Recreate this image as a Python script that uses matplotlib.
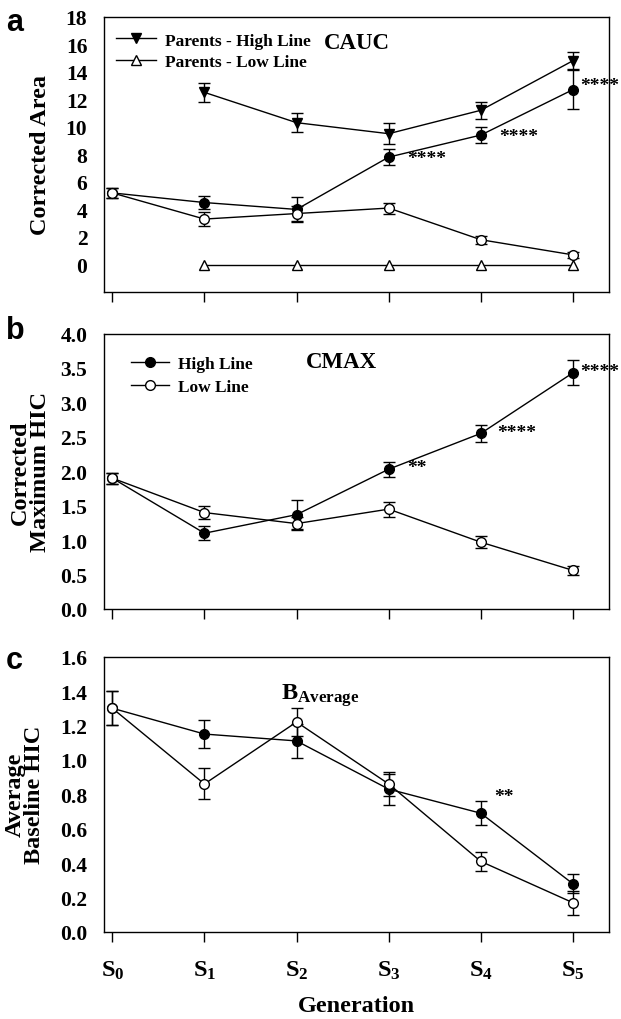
import numpy as np
import matplotlib
matplotlib.use('Agg')
import matplotlib.pyplot as plt
from matplotlib.lines import Line2D

plt.rcParams['font.family'] = ['Liberation Serif', 'DejaVu Serif']
plt.rcParams['font.weight'] = 'bold'
plt.rcParams['mathtext.fontset'] = 'custom'
plt.rcParams['mathtext.rm'] = 'Liberation Serif:bold'
plt.rcParams['mathtext.it'] = 'Liberation Serif:bold'
plt.rcParams['mathtext.bf'] = 'Liberation Serif:bold'
plt.rcParams['mathtext.default'] = 'rm'

# Generaciones S0..S5
gen = np.arange(6)
gen_labels = [r'$S_0$', r'$S_1$', r'$S_2$', r'$S_3$', r'$S_4$', r'$S_5$']

# Panel a: CAUC
par_high = [12.5, 10.3, 9.5, 11.2, 14.8]
par_high_err = [0.7, 0.7, 0.75, 0.6, 0.6]
par_low = [0, 0, 0, 0, 0]
a_high = [5.2, 4.5, 4.0, 7.8, 9.4, 12.7]
a_high_err = [0.35, 0.5, 0.9, 0.6, 0.6, 1.4]
a_low = [5.2, 3.3, 3.7, 4.1, 1.8, 0.7]
a_low_err = [0.35, 0.5, 0.55, 0.4, 0.3, 0.2]

# Panel b: CMAX
b_high = [1.9, 1.1, 1.37, 2.03, 2.55, 3.43]
b_high_err = [0.08, 0.1, 0.21, 0.11, 0.12, 0.18]
b_low = [1.9, 1.4, 1.24, 1.45, 0.97, 0.56]
b_low_err = [0.08, 0.09, 0.1, 0.11, 0.09, 0.07]

# Panel c: B average
c_high = [1.3, 1.15, 1.11, 0.83, 0.69, 0.28]
c_high_err = [0.1, 0.08, 0.1, 0.09, 0.07, 0.055]
c_low = [1.3, 0.86, 1.22, 0.86, 0.41, 0.17]
c_low_err = [0.1, 0.09, 0.08, 0.07, 0.055, 0.07]

fig = plt.figure(figsize=(6.21, 10.2), dpi=100)
left, width, height = 0.1675, 0.813, 0.27
ax_a = fig.add_axes([left, 0.7127, width, height])
ax_b = fig.add_axes([left, 0.402, width, height])
ax_c = fig.add_axes([left, 0.0853, width, height])

ms = 7
eb = dict(color='black', lw=1, capsize=4, capthick=1, elinewidth=1)


def series(ax, x, y, err, marker, fill):
    ax.errorbar(x, y, yerr=err, marker=marker, ms=ms, mfc=fill, mec='black',
                mew=1, **eb)


for ax in (ax_a, ax_b, ax_c):
    ax.set_xlim(-0.09, 5.39)
    ax.set_xticks(gen)
    ax.tick_params(axis='x', direction='out', length=7, width=1)
    ax.tick_params(axis='y', direction='out', length=0, labelsize=15.5, pad=12)
    for s in ax.spines.values():
        s.set_linewidth(1)
    for t in ax.get_yticklabels():
        t.set_fontweight('bold')

star = 14

# --- a ---
series(ax_a, gen[1:], par_high, par_high_err, 'v', 'black')
series(ax_a, gen[1:], par_low, None, '^', 'white')
series(ax_a, gen, a_high, a_high_err, 'o', 'black')
series(ax_a, gen, a_low, a_low_err, 'o', 'white')
ax_a.set_ylim(-2, 18)
ax_a.set_yticks(np.arange(0, 19, 2))
ax_a.set_xticklabels([])
ax_a.set_ylabel('Corrected Area', fontsize=17.5, fontweight='bold')
ax_a.yaxis.set_label_coords(-0.105, 0.5)
h1 = Line2D([], [], color='black', lw=1, marker='v', ms=ms, mfc='black', mec='black')
h2 = Line2D([], [], color='black', lw=1, marker='^', ms=ms, mfc='white', mec='black')
ax_a.legend([h1, h2], ['Parents - High Line', 'Parents - Low Line'], loc='upper left',
            frameon=False, fontsize=12.5, handlelength=2.3, handletextpad=0.5,
            borderaxespad=0.0, labelspacing=0.3, bbox_to_anchor=(0.01, 0.968))
ax_a.text(2.3, 16.1, 'CAUC', fontsize=16.5, fontweight='bold', va='center')
for i in (3, 4):
    ax_a.text(gen[i] + 0.2, a_high[i] - 0.1, '****', fontsize=star, va='center')
ax_a.text(gen[5] + 0.08, a_high[5] + 0.3, '****', fontsize=star, va='center')
fig.text(0.01, 0.992, 'a', fontsize=22, fontweight='bold', family='Liberation Sans',
         va='top')

# --- b ---
series(ax_b, gen, b_high, b_high_err, 'o', 'black')
series(ax_b, gen, b_low, b_low_err, 'o', 'white')
ax_b.set_ylim(0, 4)
ax_b.set_yticks(np.arange(0, 4.01, 0.5))
ax_b.set_yticklabels(['%.1f' % v for v in np.arange(0, 4.01, 0.5)])
ax_b.set_xticklabels([])
ax_b.set_ylabel('Corrected\nMaximum HIC', fontsize=17.5, fontweight='bold',
                linespacing=0.95)
ax_b.yaxis.set_label_coords(-0.105, 0.5)
h3 = Line2D([], [], color='black', lw=1, marker='o', ms=ms, mfc='black', mec='black')
h4 = Line2D([], [], color='black', lw=1, marker='o', ms=ms, mfc='white', mec='black')
ax_b.legend([h3, h4], ['High Line', 'Low Line'], loc='upper left', frameon=False,
            fontsize=12.5, handlelength=2.2, handletextpad=0.5, borderaxespad=0.0,
            labelspacing=0.4, bbox_to_anchor=(0.04, 0.945))
ax_b.text(2.1, 3.6, 'CMAX', fontsize=16.5, fontweight='bold', va='center')
ax_b.text(gen[3] + 0.2, b_high[3] + 0.02, '**', fontsize=star, va='center')
ax_b.text(gen[4] + 0.18, b_high[4] + 0.02, '****', fontsize=star, va='center')
ax_b.text(gen[5] + 0.08, b_high[5] + 0.02, '****', fontsize=star, va='center')
fig.text(0.01, 0.69, 'b', fontsize=22, fontweight='bold', family='Liberation Sans',
         va='top')

# --- c ---
series(ax_c, gen, c_high, c_high_err, 'o', 'black')
series(ax_c, gen, c_low, c_low_err, 'o', 'white')
ax_c.set_ylim(0, 1.6)
ax_c.set_yticks(np.arange(0, 1.61, 0.2))
ax_c.set_yticklabels(['%.1f' % v for v in np.arange(0, 1.61, 0.2)])
ax_c.set_xticklabels(gen_labels, fontsize=17.5)
ax_c.tick_params(axis='x', pad=12)
ax_c.set_ylabel('Average\nBaseline HIC', fontsize=17.5, fontweight='bold',
                linespacing=0.9)
ax_c.yaxis.set_label_coords(-0.116, 0.5)
ax_c.set_xlabel('Generation', fontsize=17.5, fontweight='bold', labelpad=10)
ax_c.text(1.83, 1.38, r'$B_{Average}$', fontsize=17.5, va='center')
ax_c.text(gen[4] + 0.15, 0.79, '**', fontsize=star, va='center')
fig.text(0.01, 0.367, 'c', fontsize=22, fontweight='bold', family='Liberation Sans',
         va='top')

fig.savefig('out.png', dpi=100)
